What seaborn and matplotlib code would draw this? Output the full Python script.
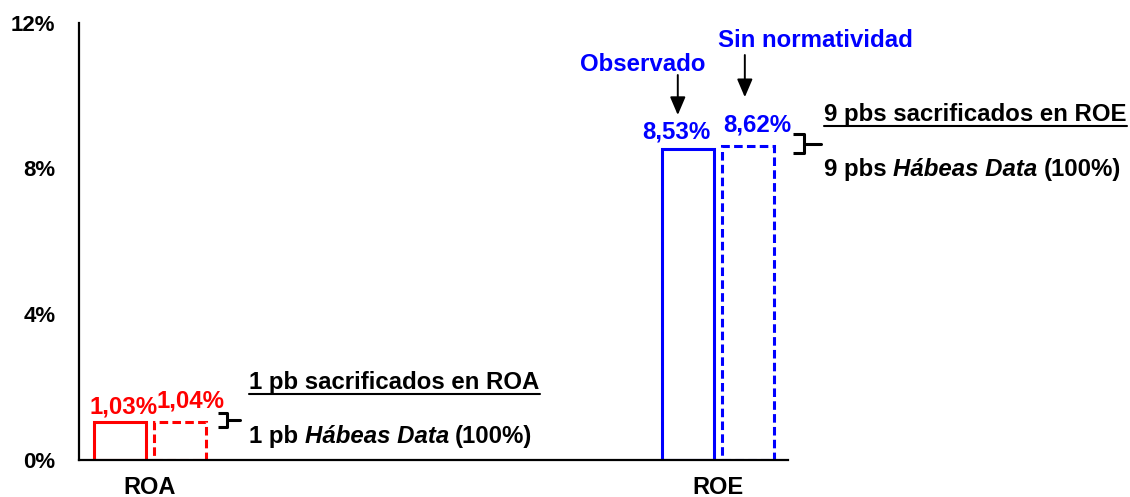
import matplotlib
matplotlib.use("Agg")
import matplotlib.pyplot as plt
from matplotlib.lines import Line2D
import pandas as pd
import seaborn as sns

# Indicators and scenarios
categories = ["ROA", "ROE"]
scenarios = ["Observado", "Sin normatividad"]
roa_values = [1.03, 1.04]
roe_values = [8.53, 8.62]
y_ticks = [0, 4, 8, 12]

cat_colors = {"ROA": "#FF0000", "ROE": "#0000FF"}
scenario_styles = {"Observado": "solid", "Sin normatividad": (0, (2.8, 1.4))}

df = pd.DataFrame({
    "indicador": [c for c in categories for _ in scenarios],
    "escenario": scenarios * len(categories),
    "valor": roa_values + roe_values,
})

sns.set_style("white")
plt.rcParams["font.family"] = ["Liberation Sans", "DejaVu Sans"]
plt.rcParams["font.weight"] = "bold"
plt.rcParams["text.color"] = "black"

FS = 17.3

fig = plt.figure(figsize=(11.3, 4.97), dpi=100)
ax = fig.add_axes([79 / 1130, 1 - 459.5 / 497, (788 - 79) / 1130, (459.5 - 23) / 497])

sns.barplot(data=df, x="indicador", y="valor", hue="escenario", order=categories,
            hue_order=scenarios, width=0.212, gap=0.14, fill=False, legend=False,
            errorbar=None, ax=ax)

# Outline-only bars: colour by indicator, line style by scenario
for cont, scen in zip(ax.containers, scenarios):
    for bar, cat in zip(cont, categories):
        bar.set_edgecolor(cat_colors[cat])
        bar.set_facecolor("white")
        bar.set_linewidth(2.2)
        bar.set_linestyle(scenario_styles[scen])
        bar.set_joinstyle("miter")

ax.set_xlim(-0.125, 1.123)
ax.set_ylim(0, 12)
ax.set_yticks(y_ticks)
ax.set_yticklabels([f"{t}%" for t in y_ticks], fontsize=16, fontweight="bold")
ax.set_xticks(range(len(categories)))
ax.set_xticklabels(categories, fontsize=17, fontweight="bold")
ax.tick_params(axis="y", length=0, pad=17, labelcolor="black")
ax.tick_params(axis="x", length=0, pad=12, labelcolor="black")
ax.set_xlabel("")
ax.set_ylabel("")
for side in ["top", "right"]:
    ax.spines[side].set_visible(False)
for side in ["left", "bottom"]:
    ax.spines[side].set_color("black")
    ax.spines[side].set_linewidth(1.6)

# Value labels above each bar (pixel nudges keep neighbouring labels apart)
label_nudge = {("ROA", "Observado"): (4, 9), ("ROA", "Sin normatividad"): (10, 14),
               ("ROE", "Observado"): (-12, 11), ("ROE", "Sin normatividad"): (9, 14)}
for cont, scen in zip(ax.containers, scenarios):
    for bar, cat in zip(cont, categories):
        v = bar.get_height()
        dx, dy = label_nudge[(cat, scen)]
        ax.annotate(f"{v:.2f}".replace(".", ",") + "%",
                    xy=(bar.get_x() + bar.get_width() / 2, v), xycoords="data",
                    xytext=(dx * 0.72, dy * 0.72), textcoords="offset points",
                    ha="center", va="baseline", fontsize=FS, fontweight="bold",
                    color=cat_colors[cat], annotation_clip=False)

# Scenario captions with arrows
ax.text(0.867, 10.68, "Observado", ha="center", va="baseline", fontsize=FS,
        fontweight="bold", color="#0000FF")
ax.text(1.172, 11.34, "Sin normatividad", ha="center", va="baseline", fontsize=FS,
        fontweight="bold", color="#0000FF")
arrow = dict(arrowstyle="-|>,head_length=1.1,head_width=0.47", color="black",
             lw=1.4, shrinkA=0, shrinkB=0, mutation_scale=10)
ax.annotate("", xy=(0.929, 9.47), xytext=(0.929, 10.57), arrowprops=arrow,
            annotation_clip=False)
ax.annotate("", xy=(1.047, 9.96), xytext=(1.047, 11.12), arrowprops=arrow,
            annotation_clip=False)


def bracket(x_left, x_mid, x_tip, y_top, y_bot):
    y_c = (y_top + y_bot) / 2
    ax.plot([x_left, x_mid, x_mid, x_left], [y_top, y_top, y_bot, y_bot],
            color="black", lw=2.2, solid_joinstyle="round", solid_capstyle="butt",
            clip_on=False)
    ax.plot([x_mid, x_tip], [y_c, y_c], color="black", lw=2.2, clip_on=False)


bracket(0.120, 0.136, 0.159, 1.29, 0.88)
bracket(1.132, 1.151, 1.181, 8.95, 8.42)


def rich_line(x, y, pieces):
    prev = None
    for txt, style, space in pieces:
        if prev is None:
            t = ax.text(x, y, txt, ha="left", va="baseline", fontsize=FS,
                        fontweight="bold", fontstyle=style, color="black")
        else:
            t = ax.annotate(txt, xy=(1, y), xycoords=(prev, "data"), xytext=(space, 0),
                            textcoords="offset points", ha="left", va="baseline",
                            fontsize=FS, fontweight="bold", fontstyle=style,
                            color="black")
        prev = t


underlined = []
underlined.append(ax.text(0.175, 1.93, "1 pb sacrificados en ROA", ha="left",
                          va="baseline", fontsize=FS, fontweight="bold"))
underlined.append(ax.text(1.187, 9.30, "9 pbs sacrificados en ROE", ha="left",
                          va="baseline", fontsize=FS, fontweight="bold"))
rich_line(0.175, 0.44, [("1 pb", "normal", 0), ("Hábeas Data", "italic", 4.3),
                        ("(100%)", "normal", 4.5)])
rich_line(1.187, 7.79, [("9 pbs", "normal", 0), ("Hábeas Data", "italic", 4.3),
                        ("(100%)", "normal", 4.5)])

# Underline the headline texts
fig.canvas.draw()
inv = fig.transFigure.inverted()
for t in underlined:
    bb = t.get_window_extent()
    base = ax.transData.transform(t.get_position())[1]
    yline = base - 5
    (x0, y0), (x1, y1) = inv.transform([(bb.x0, yline), (bb.x1, yline)])
    fig.add_artist(Line2D([x0, x1], [y0, y1], color="black", lw=1.5,
                          transform=fig.transFigure))

fig.savefig("out.png", dpi=100)
